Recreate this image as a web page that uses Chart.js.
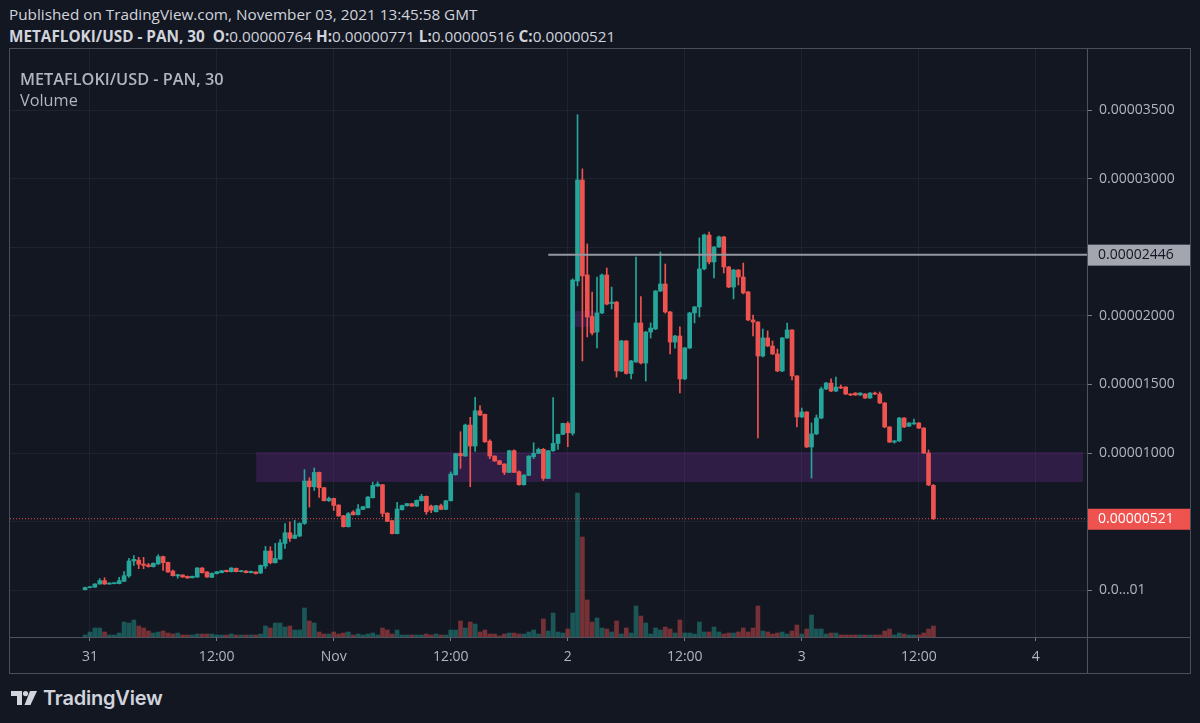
<!DOCTYPE html>
<html>
<head>
<meta charset="utf-8">
<title>METAFLOKI/USD - PAN, 30</title>
<script src="https://cdn.jsdelivr.net/npm/chart.js@4.4.0/dist/chart.umd.min.js"></script>
<style>
  html, body { margin: 0; padding: 0; background: #131722; }
  body { width: 1200px; height: 723px; position: relative; overflow: hidden; font-family: "Open Sans", sans-serif; color: #d1d4dc; }
  .hdr { position: absolute; left: 9px; font-size: 15.3px; white-space: nowrap; }
  #hdr1 { top: 4px; }
  #hdr2 { top: 26px; }
  #hdr2 b { font-weight: 700; }
  #panel { position: absolute; left: 9px; top: 48px; width: 1180px; height: 624px; border: 1px solid #4a4e59; }
  #chart { display: block; }
  .leg { position: absolute; left: 20px; color: #b2b5be; white-space: nowrap; font-size: 16.3px; }
  #leg1 { top: 68px; font-weight: 600; }
  #leg2 { top: 89px; }
  #logo { position: absolute; left: 11px; top: 686px; display: flex; align-items: center; }
  #logo span { font-family: Inter, sans-serif; font-size: 20px; font-weight: 600; color: #d1d4dc; margin-left: 6px; letter-spacing: -0.2px; }
</style>
</head>
<body>
<div class="hdr" id="hdr1">Published on TradingView.com, November 03, 2021 13:45:58 GMT</div>
<div class="hdr" id="hdr2"><b>METAFLOKI/USD - PAN, 30</b>&nbsp; <b>O:</b>0.00000764 <b>H:</b>0.00000771 <b>L:</b>0.00000516 <b>C:</b>0.00000521</div>
<div id="panel"><canvas id="chart" width="1180" height="624"></canvas></div>
<div class="leg" id="leg1">METAFLOKI/USD - PAN, 30</div>
<div class="leg" id="leg2">Volume</div>
<div id="logo">
  <svg width="26" height="16" viewBox="0 0 26 16">
    <path d="M0 1h11v14h-5v-9h-6z" fill="#d1d4dc"/>
    <circle cx="14.5" cy="3.6" r="2.6" fill="#d1d4dc"/>
    <path d="M19 1h7l-6.5 14h-6z" fill="#d1d4dc"/>
  </svg>
  <span>TradingView</span>
</div>
<script>
// 30 min candles, prices in units of 0.00000001 USD
const opens = [
  4, 19, 22, 45, 70, 45, 48, 48, 65, 104, 213, 220, 191, 184, 172, 191, 245, 203, 140, 104, 111, 101, 91, 96, 162,
  133, 94, 121, 128, 145, 135, 159, 135, 140, 128, 133, 125, 176, 285, 200, 227, 341, 419, 378, 395, 487, 796, 754, 859, 747,
  652, 669, 621, 543, 463, 570, 550, 589, 601, 674, 759, 769, 562, 507, 412, 587, 616, 631, 613, 652, 684, 613, 572, 616, 589,
  652, 842, 997, 978, 1204, 1051, 1308, 1282, 1087, 978, 944, 920, 859, 1017, 864, 769, 837, 973, 997, 1027, 815, 1017, 1070, 1136, 1216,
  1145, 2254, 2990, 2298, 1995, 1882, 2021, 2298, 2090, 2100, 1598, 1817, 1580, 1664, 1948, 1656, 1882, 1904, 2181, 2232,
  2028, 1809, 1853, 1540, 1766, 2021, 2065, 2342, 2589, 2393, 2502, 2575, 2356, 2210, 2334, 2283, 2174, 1970, 1955, 1707,
  1839, 1780, 1722, 1598, 1839, 1897, 1562, 1263, 1299, 1044, 1139, 1255, 1467, 1510, 1452, 1481, 1481, 1430, 1437, 1423,
  1430, 1401, 1437, 1430, 1365, 1190, 1080, 1088, 1255, 1196, 1212, 1219, 1182, 1000, 764
];
const highs = [
  22, 25, 48, 84, 91, 55, 54, 94, 135, 232, 252, 240, 240, 196, 200, 259, 248, 206, 147, 116, 113, 104, 104, 165, 165,
  135, 126, 138, 145, 147, 164, 162, 145, 143, 140, 135, 184, 320, 317, 341, 370, 486, 499, 509, 492, 879, 820, 891, 862, 750,
  679, 672, 623, 545, 567, 580, 624, 612, 682, 788, 790, 772, 565, 510, 641, 621, 633, 633, 658, 699, 687, 621, 618, 628, 655,
  862, 998, 1155, 1211, 1260, 1406, 1345, 1284, 1097, 980, 947, 922, 1020, 1024, 871, 842, 980, 1075, 1036, 1034, 1019, 1405, 1138, 1219, 1228,
  2270, 3466, 3071, 2524, 2174, 2283, 2305, 2349, 2210, 2105, 1822, 1820, 1675, 2429, 2140, 1886, 1948, 2185, 2465, 2378,
  2032, 1858, 1919, 1770, 2025, 2068, 2568, 2596, 2611, 2505, 2582, 2580, 2360, 2338, 2338, 2385, 2178, 2006, 1958, 1904,
  1890, 1817, 1758, 1843, 1948, 1900, 1565, 1328, 1302, 1219, 1277, 1481, 1515, 1540, 1554, 1496, 1484, 1433, 1440, 1440,
  1433, 1440, 1445, 1445, 1368, 1193, 1092, 1260, 1258, 1222, 1248, 1222, 1185, 1022, 771
];
const lows = [
  2, 17, 20, 44, 43, 43, 46, 46, 62, 94, 181, 157, 157, 168, 168, 188, 145, 130, 103, 87, 94, 87, 89, 94, 125,
  94, 91, 118, 126, 133, 133, 133, 133, 126, 126, 118, 123, 159, 192, 198, 224, 305, 356, 376, 390, 480, 606, 727, 677, 650,
  647, 581, 538, 460, 460, 548, 548, 587, 599, 672, 757, 536, 500, 410, 410, 584, 613, 611, 611, 650, 553, 565, 570, 587, 587,
  650, 838, 888, 975, 754, 1012, 1272, 1078, 959, 939, 915, 842, 857, 857, 766, 766, 835, 959, 995, 800, 813, 1012, 1027, 1133, 1046,
  1130, 2218, 1671, 1846, 1860, 1766, 2015, 2080, 2050, 1554, 1593, 1575, 1540, 1660, 1650, 1525, 1838, 1900, 2176, 2020,
  1722, 1765, 1438, 1535, 1760, 1948, 1992, 2335, 2378, 2276, 2498, 2312, 2205, 2123, 2225, 2160, 1965, 1853, 1110, 1700,
  1776, 1718, 1593, 1593, 1835, 1532, 1190, 1258, 1040, 818, 1135, 1250, 1462, 1448, 1448, 1470, 1426, 1418, 1420, 1420,
  1398, 1398, 1426, 1360, 1185, 1076, 1072, 1084, 1185, 1192, 1208, 1178, 996, 762, 516
];
const closes = [
  19, 23, 45, 70, 45, 52, 52, 70, 106, 213, 225, 189, 181, 172, 196, 245, 201, 133, 106, 113, 96, 89, 101, 162, 128,
  96, 123, 135, 142, 135, 162, 135, 142, 128, 138, 121, 181, 286, 200, 232, 346, 419, 378, 402, 487, 796, 754, 859, 747, 652,
  669, 618, 541, 463, 558, 550, 592, 609, 679, 764, 774, 560, 502, 412, 592, 618, 631, 613, 655, 684, 572, 584, 616, 589, 652,
  847, 995, 980, 1204, 1051, 1308, 1277, 1082, 978, 942, 917, 859, 1017, 859, 769, 839, 978, 997, 1027, 815, 1017, 1070, 1136, 1216, 1148,
  2261, 2990, 2291, 1992, 1875, 2021, 2298, 2086, 2100, 1598, 1817, 1580, 1671, 1948, 1656, 1882, 1911, 2181, 2232, 2028,
  1809, 1853, 1540, 1766, 2021, 2065, 2342, 2589, 2393, 2502, 2575, 2356, 2210, 2334, 2283, 2167, 1970, 1955, 1707, 1839,
  1780, 1722, 1598, 1839, 1897, 1562, 1263, 1299, 1044, 1139, 1255, 1467, 1510, 1452, 1481, 1474, 1430, 1423, 1423, 1437,
  1401, 1437, 1430, 1365, 1190, 1080, 1088, 1255, 1190, 1219, 1219, 1182, 1000, 767, 521
];
// volume, relative units
const volumes = [
  2, 5, 9, 9, 5, 2, 2, 4, 15, 14, 17, 11, 9, 6, 4, 5, 6, 4, 3, 4, 2, 2, 2, 3, 3,
  3, 3, 2, 2, 2, 3, 2, 2, 2, 2, 2, 3, 11, 9, 14, 14, 10, 11, 7, 7, 29, 16, 14, 5, 3,
  3, 5, 3, 4, 5, 2, 3, 2, 3, 4, 2, 9, 7, 3, 7, 2, 2, 2, 2, 2, 3, 2, 3, 2, 2,
  7, 7, 16, 9, 15, 13, 5, 7, 3, 3, 1, 3, 4, 4, 3, 3, 5, 7, 3, 18, 6, 24, 5, 4, 8,
  24, 144, 100, 37, 15, 19, 9, 8, 5, 16, 3, 9, 4, 31, 21, 14, 3, 9, 7, 10,
  8, 4, 17, 4, 4, 3, 15, 5, 5, 10, 5, 3, 4, 4, 5, 9, 5, 9, 31, 6,
  5, 3, 4, 5, 3, 6, 12, 3, 8, 22, 8, 8, 3, 4, 4, 2, 2, 2, 2, 2,
  2, 2, 2, 2, 6, 8, 2, 4, 3, 2, 2, 2, 4, 8, 11
];

const xTickPos = [1, 27, 51, 75, 99, 123, 147, 171, 195];
const xTickLabels = ['31', '12:00', 'Nov', '12:00', '2', '12:00', '3', '12:00', '4'];
const yTickValues = [0, 500, 1000, 1500, 2000, 2500, 3000, 3500];
const yTickHidden = [500, 2500]; // covered by the price boxes

const lastPrice = 521;
const levelPrice = 2446;
const levelStart = 95;
const zones = [
  { from: 35.1, to: 204.7, low: 789, high: 1007 },
  { from: 100.1, to: 104.6, low: 1919, high: 2035 }
];

const upColor = '#26a69a';
const downColor = '#ef5350';
const isUp = opens.map((o, i) => closes[i] >= o);

const xMin = -15.4, xMax = 205.5;

const fmt = v => (v * 1e-8).toFixed(8);

const overlayPlugin = {
  id: 'overlay',
  beforeDatasetsDraw(chart) {
    const { ctx, scales: { x, y } } = chart;
    ctx.save();
    ctx.fillStyle = 'rgba(103, 39, 136, 0.35)';
    zones.forEach(z => {
      const x0 = x.getPixelForValue(z.from), x1 = x.getPixelForValue(z.to);
      const y0 = y.getPixelForValue(z.high), y1 = y.getPixelForValue(z.low);
      ctx.fillRect(x0, y0, x1 - x0, y1 - y0);
    });
    ctx.restore();
  },
  afterDraw(chart) {
    const { ctx, chartArea, scales: { y } } = chart;
    const w = chart.width, h = chart.height;
    ctx.save();
    ctx.strokeStyle = '#50535e';
    ctx.lineWidth = 1;
    ctx.beginPath();
    ctx.moveTo(Math.round(chartArea.right) + 0.5, 0);
    ctx.lineTo(Math.round(chartArea.right) + 0.5, h);
    ctx.moveTo(0, Math.round(chartArea.bottom) + 0.5);
    ctx.lineTo(w, Math.round(chartArea.bottom) + 0.5);
    ctx.stroke();

    const boxes = [
      { v: levelPrice, bg: '#a3a6af', fg: '#131722' },
      { v: lastPrice, bg: '#ef5350', fg: '#ffffff' }
    ];
    ctx.font = '14px "Open Sans"';
    ctx.textBaseline = 'middle';
    ctx.textAlign = 'left';
    boxes.forEach(b => {
      const py = y.getPixelForValue(b.v);
      ctx.fillStyle = b.bg;
      ctx.fillRect(chartArea.right + 1, py - 10, w - chartArea.right - 1, 21);
      ctx.fillStyle = b.fg;
      ctx.fillText(fmt(b.v), chartArea.right + 11, py + 0.5);
    });
    ctx.restore();
  }
};

new Chart(document.getElementById('chart'), {
  type: 'bar',
  data: {
    datasets: [
      {
        label: 'Level',
        type: 'line',
        data: [{ x: levelStart, y: levelPrice }, { x: xMax, y: levelPrice }],
        borderColor: '#9598a1',
        borderWidth: 2,
        pointRadius: 0,
        order: 0
      },
      {
        label: 'Last',
        type: 'line',
        data: [{ x: xMin, y: lastPrice }, { x: xMax, y: lastPrice }],
        borderColor: '#ef5350',
        borderWidth: 1,
        borderDash: [1, 2],
        pointRadius: 0,
        order: 0
      },
      {
        label: 'Body',
        data: opens.map((o, i) => ({ x: i, y: [o, closes[i]] })),
        backgroundColor: isUp.map(u => u ? upColor : downColor),
        barThickness: 4,
        minBarLength: 1,
        grouped: false,
        order: 1
      },
      {
        label: 'Wick',
        data: lows.map((l, i) => ({ x: i, y: [l, highs[i]] })),
        backgroundColor: isUp.map(u => u ? upColor : downColor),
        barThickness: 1,
        grouped: false,
        order: 2
      },
      {
        label: 'Volume',
        data: volumes.map((v, i) => ({ x: i, y: v })),
        yAxisID: 'yv',
        backgroundColor: isUp.map(u => u ? 'rgba(38,166,154,0.45)' : 'rgba(239,83,80,0.45)'),
        barThickness: 4,
        grouped: false,
        order: 3
      }
    ]
  },
  options: {
    responsive: false,
    animation: false,
    devicePixelRatio: 1,
    layout: { padding: 0 },
    plugins: { legend: { display: false }, tooltip: { enabled: false } },
    scales: {
      x: {
        type: 'linear',
        min: xMin,
        max: xMax,
        offset: false,
        afterBuildTicks: s => { s.ticks = xTickPos.map(v => ({ value: v })); },
        afterFit: s => { s.height = 36; s.paddingLeft = 0; s.paddingRight = 0; },
        ticks: {
          autoSkip: false,
          maxRotation: 0,
          padding: 8,
          color: '#b2b5be',
          font: { family: 'Open Sans', size: 14 },
          callback: (v, i) => xTickLabels[i]
        },
        grid: { offset: false, color: '#1f2330', tickColor: '#787b86', tickLength: 4 },
        border: { display: false }
      },
      y: {
        position: 'right',
        min: -341,
        max: 3945,
        afterBuildTicks: s => { s.ticks = yTickValues.map(v => ({ value: v })); },
        afterFit: s => { s.width = 103; s.paddingTop = 0; s.paddingBottom = 0; },
        ticks: {
          padding: 7,
          color: '#b2b5be',
          font: { family: 'Open Sans', size: 14 },
          callback: v => yTickHidden.includes(v) ? '' : (v === 0 ? '0.0…01' : fmt(v))
        },
        grid: { color: '#1f2330', tickColor: '#787b86', tickLength: 5 },
        border: { display: false }
      },
      yv: {
        display: false,
        min: 0,
        max: 588
      }
    }
  },
  plugins: [overlayPlugin]
});
</script>
</body>
</html>
